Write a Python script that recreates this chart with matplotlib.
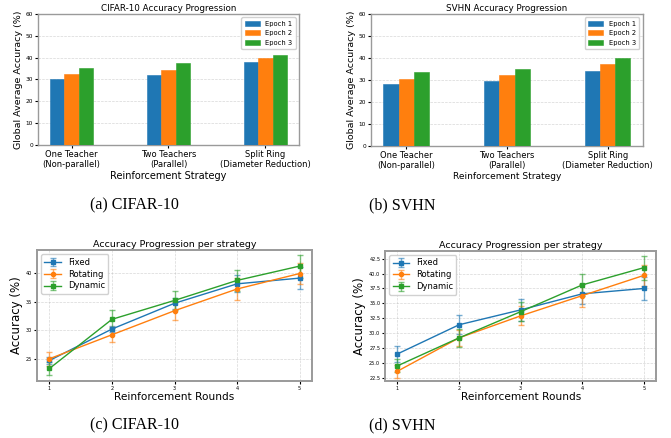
import numpy as np
import matplotlib
matplotlib.use("Agg")
import matplotlib.pyplot as plt

# bar chart data (global average accuracy, %)
strategies = ["One Teacher\n(Non-parallel)", "Two Teachers\n(Parallel)", "Split Ring\n(Diameter Reduction)"]
epochs = ["Epoch 1", "Epoch 2", "Epoch 3"]
cifar_bars = [[30.0, 31.9, 37.9],
              [32.3, 34.4, 40.0],
              [35.3, 37.7, 41.2]]
svhn_bars = [[28.0, 29.5, 34.1],
             [30.2, 32.4, 37.1],
             [33.5, 35.0, 39.8]]

# line chart data (accuracy per reinforcement round)
rounds = [1, 2, 3, 4, 5]
methods = ["Fixed", "Rotating", "Dynamic"]
cifar_mean = [[24.7, 30.2, 34.7, 38.1, 39.1],
              [25.0, 29.2, 33.4, 37.2, 39.9],
              [23.3, 31.9, 35.2, 38.7, 41.2]]
cifar_std = [[0.6, 0.5, 1.0, 1.5, 1.9],
             [1.2, 1.3, 1.6, 1.9, 1.9],
             [1.2, 1.6, 1.7, 1.9, 2.0]]
svhn_mean = [[26.5, 31.4, 33.9, 36.6, 37.5],
             [23.6, 29.2, 32.9, 36.3, 39.7],
             [24.5, 29.2, 33.6, 38.1, 41.0]]
svhn_std = [[1.3, 1.6, 1.8, 1.7, 1.9],
            [1.1, 1.4, 1.6, 1.9, 1.8],
            [1.1, 1.5, 1.6, 1.9, 2.0]]

colors = ["#1f77b4", "#ff7f0e", "#2ca02c"]
markers = ["s", "o", "s"]

fig = plt.figure(figsize=(6.71, 4.38), dpi=100)


def style_frame(ax, lw):
    for s in ax.spines.values():
        s.set_color("#9a9a9a")
        s.set_linewidth(lw)


def bar_panel(ax, data, title, xlab_size):
    x = np.arange(len(strategies))
    w = 0.15
    for i in range(len(epochs)):
        ax.bar(x + (i - 1) * w, data[i], w, color=colors[i], label=epochs[i],
               edgecolor=colors[i], linewidth=0.4, zorder=3)
    ax.set_ylim(0, 60)
    ax.set_xticks(x)
    ax.set_xticklabels(strategies, fontsize=6)
    ax.tick_params(axis="y", labelsize=4.2, length=2, pad=1.5)
    ax.tick_params(axis="x", length=2, pad=1.5)
    ax.set_title(title, fontsize=6.3, pad=2)
    ax.set_xlabel("Reinforcement Strategy", fontsize=xlab_size, labelpad=1)
    ax.set_ylabel("Global Average Accuracy (%)", fontsize=6.8, labelpad=2)
    ax.grid(axis="y", linestyle="--", linewidth=0.5, alpha=0.5, zorder=0)
    ax.legend(loc="upper right", fontsize=4.9, handlelength=2.2, borderpad=0.5,
              labelspacing=0.5, framealpha=0.9)
    style_frame(ax, 1.0)


def line_panel(ax, means, stds, yticks):
    for i in range(len(methods)):
        line, caps, bars = ax.errorbar(rounds, means[i], yerr=stds[i], color=colors[i],
                                       marker=markers[i], markersize=3 if i < 2 else 2.5,
                                       linewidth=1, capsize=2, elinewidth=1, label=methods[i])
        for b in bars:
            b.set_alpha(0.6)
        for c in caps:
            c.set_alpha(0.6)
    ax.set_xticks(rounds)
    ax.set_yticks(yticks)
    ax.tick_params(labelsize=3.6, length=2, pad=1.5)
    ax.set_title("Accuracy Progression per strategy", fontsize=6.8, pad=2)
    ax.set_xlabel("Reinforcement Rounds", fontsize=7.6, labelpad=1)
    ax.set_ylabel("Accuracy (%)", fontsize=8.5, labelpad=2)
    ax.grid(True, linestyle="--", linewidth=0.5, alpha=0.5)
    ax.legend(loc="upper left", fontsize=6, handlelength=2.0, borderpad=0.4,
              labelspacing=0.35, framealpha=0.9)
    style_frame(ax, 1.4)


ax1 = fig.add_axes([0.0566, 0.669, 0.389, 0.299])
bar_panel(ax1, cifar_bars, "CIFAR-10 Accuracy Progression", 7)

ax2 = fig.add_axes([0.553, 0.667, 0.405, 0.301])
bar_panel(ax2, svhn_bars, "SVHN Accuracy Progression", 6.5)

ax3 = fig.add_axes([0.0551, 0.130, 0.41, 0.299])
line_panel(ax3, cifar_mean, cifar_std, [25, 30, 35, 40])
ax3.set_ylim(21.1, 44.0)

ax4 = fig.add_axes([0.574, 0.130, 0.404, 0.297])
line_panel(ax4, svhn_mean, svhn_std, [22.5, 25.0, 27.5, 30.0, 32.5, 35.0, 37.5, 40.0, 42.5])
ax4.yaxis.set_major_formatter(matplotlib.ticker.FormatStrFormatter("%.1f"))
ax4.set_ylim(21.94, 43.8)

cap_kw = dict(fontsize=11.5, family="Liberation Serif", ha="center", va="center")
fig.text(134 / 671, 1 - 205 / 438, "(a) CIFAR-10", **cap_kw)
fig.text(402 / 671, 1 - 205 / 438, "(b) SVHN", **cap_kw)
fig.text(134 / 671, 1 - 425 / 438, "(c) CIFAR-10", **cap_kw)
fig.text(402 / 671, 1 - 425 / 438, "(d) SVHN", **cap_kw)

fig.savefig("out.png", dpi=100)
